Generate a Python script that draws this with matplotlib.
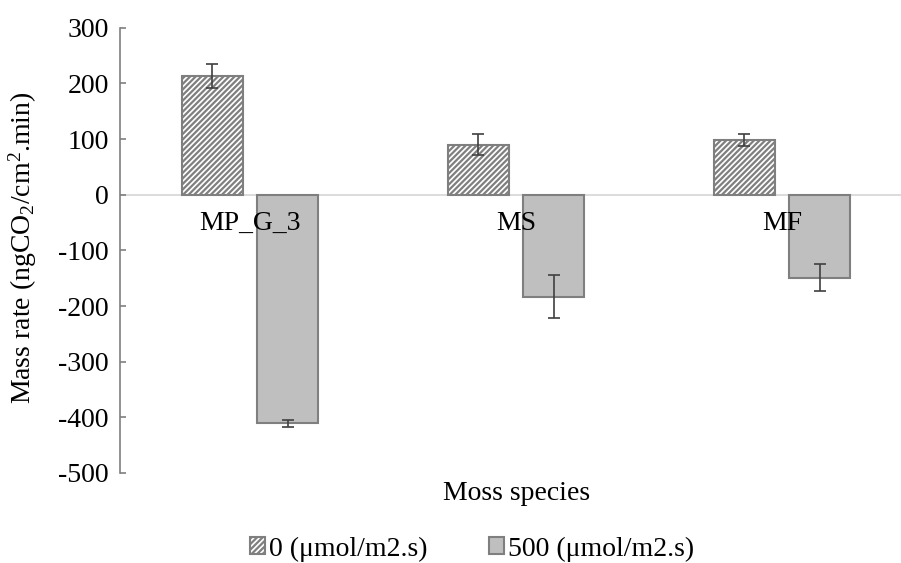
import matplotlib
matplotlib.use("Agg")
import matplotlib.pyplot as plt
import numpy as np

categories = ["MP_G_3", "MS", "MF"]
series_names = ["0 (\u03bcmol/m2.s)", "500 (\u03bcmol/m2.s)"]
vals_0 = [213, 90, 98]
err_0 = [21, 19, 11]
vals_500 = [-411, -183, -149]
err_500 = [7, 39, 24]
yticks = [300, 200, 100, 0, -100, -200, -300, -400, -500]

plt.rcParams['font.family'] = ['Liberation Serif', 'DejaVu Serif']
plt.rcParams['mathtext.fontset'] = 'custom'
plt.rcParams['mathtext.rm'] = 'Liberation Serif'
plt.rcParams['mathtext.it'] = 'Liberation Serif:italic'
plt.rcParams['hatch.linewidth'] = 1.6
plt.rcParams['hatch.color'] = '#7f7f7f'

FS = 20

fig = plt.figure(figsize=(9.01, 5.63), dpi=100)
ax = fig.add_axes([120/901, 1-473/563, 1-120/901, (473-27.7)/563])

x = np.arange(len(categories))
w = 0.23
off = 0.141
ax.bar(x - off, vals_0, w, facecolor='white', edgecolor='#7f7f7f', hatch='//////',
       linewidth=1.5, label=series_names[0], zorder=2)
ax.bar(x + off, vals_500, w, facecolor='#bfbfbf', edgecolor='#7f7f7f',
       linewidth=1.5, label=series_names[1], zorder=2)
ax.errorbar(x - off, vals_0, yerr=err_0, fmt='none', ecolor='#404040',
            elinewidth=1.2, capsize=4.5, capthick=1.2, zorder=3)
ax.errorbar(x + off, vals_500, yerr=err_500, fmt='none', ecolor='#404040',
            elinewidth=1.2, capsize=4.5, capthick=1.2, zorder=3)

ax.axhline(0, color='#d9d9d9', linewidth=1.3, zorder=1)
ax.set_ylim(-500, 300)
ax.set_xlim(-130/266, (901-250)/266)
ax.set_yticks(yticks)
ax.set_yticklabels([str(t) for t in yticks], fontsize=FS)
ax.set_xticks([])
for s in ['top', 'right', 'bottom']:
    ax.spines[s].set_visible(False)
ax.spines['left'].set_color('#7f7f7f')
ax.spines['left'].set_linewidth(1.2)
ax.tick_params(axis='y', direction='in', length=4.5, width=1.2, color='#7f7f7f',
               pad=8)

for xi, c in zip(x, categories):
    ax.annotate(c, (xi, 0), xytext=(0, -21), textcoords='offset points',
                ha='center', va='center', fontsize=FS)

ax.set_ylabel("Mass rate (ngCO$_2$/cm$^2$.min)", fontsize=FS)
ax.yaxis.set_label_coords((39-120)/781, 0.505)
fig.text(517/901, 1-493/563, "Moss species", ha='center', va='center', fontsize=FS)

leg = fig.legend(loc='center', bbox_to_anchor=(472/901, 1-549/563), ncol=2,
                 frameon=False, fontsize=FS, handlelength=0.55, handleheight=0.55,
                 handletextpad=0.15, columnspacing=2.2)

fig.savefig("out.png", dpi=100)
